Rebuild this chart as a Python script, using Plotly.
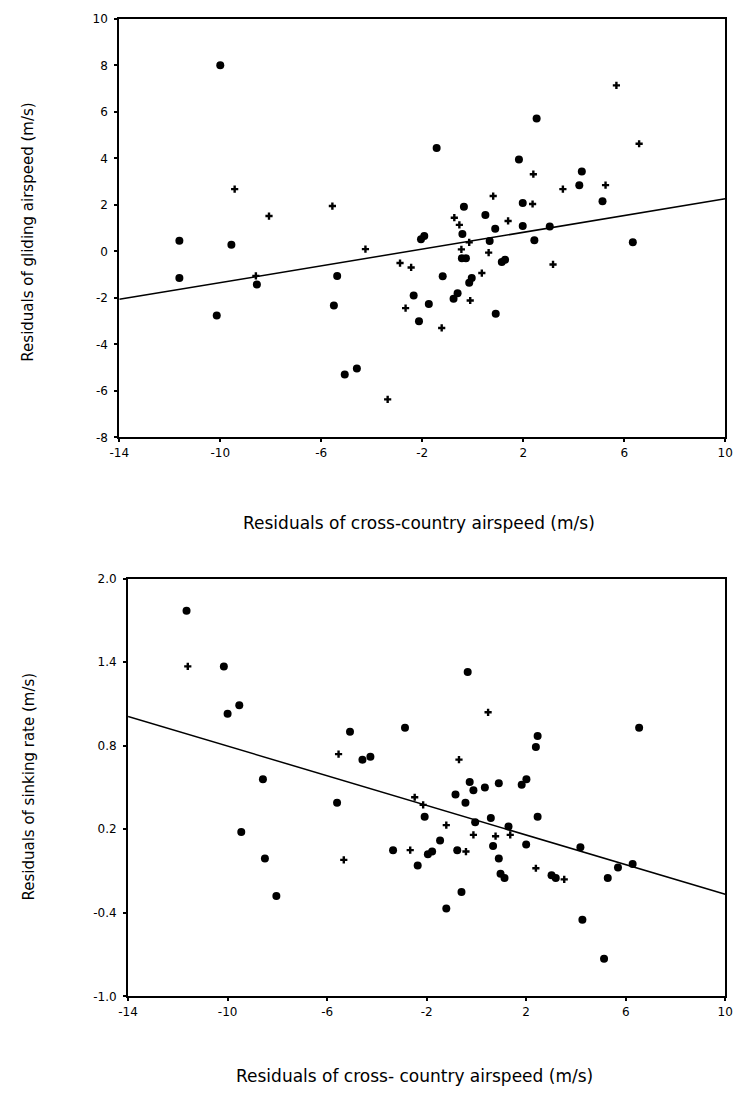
import plotly.graph_objects as go

# ---------------- data: top panel (gliding airspeed) ----------------
top_big_x = [-10.0, -1.43, 2.53, 1.83, 4.32, 4.22, 5.14, -0.35, 1.98, 0.50, 0.89, 1.98, 3.05,
             -0.41, -1.92, -2.05, 0.67, 2.44, -0.43, -0.27, -5.37, -1.19, 1.15, 1.28, -0.04,
             -0.14, -5.50, -2.34, -0.60, -0.76, -1.74, 0.91, -2.13, 6.34, -11.62, -9.56,
             -11.62, -8.55, -10.14, -5.07, -4.59]
top_big_y = [8.0, 4.45, 5.72, 3.95, 3.44, 2.85, 2.16, 1.92, 2.08, 1.57, 0.98, 1.09, 1.07,
             0.75, 0.66, 0.52, 0.45, 0.48, -0.29, -0.29, -1.06, -1.07, -0.46, -0.36, -1.14,
             -1.35, -2.33, -1.90, -1.80, -2.04, -2.26, -2.68, -3.00, 0.39, 0.46, 0.29,
             -1.14, -1.42, -2.75, -5.29, -5.03]
top_small_x = [-9.43, -8.07, -5.56, 5.69, 6.59, 2.40, 3.57, 5.26, 0.81, 2.37, -0.73, -0.53,
               1.40, -0.14, -4.25, -0.45, 0.63, -2.88, -2.44, 3.18, 0.36, -0.10, -2.66,
               -1.23, -8.59, -3.37]
top_small_y = [2.68, 1.52, 1.95, 7.14, 4.63, 3.32, 2.68, 2.85, 2.38, 2.04, 1.45, 1.14,
               1.31, 0.39, 0.10, 0.09, -0.05, -0.50, -0.69, -0.56, -0.93, -2.11, -2.44,
               -3.29, -1.05, -6.36]
top_fit_x = [-14, 10]
top_fit_y = [-2.06, 2.26]

# ---------------- data: bottom panel (sinking rate) ----------------
bot_big_x = [-11.65, -10.15, -9.53, -10.0, -5.08, -2.87, -4.58, -4.26, -8.58, -5.60, -9.45,
             -8.50, -8.04, -3.35, -2.36, -0.35, 6.54, 2.46, 2.39, -0.27, -0.12, 0.34, 0.90,
             1.82, 2.01, -0.84, -0.44, -2.08, 0.58, -0.05, 1.29, 2.46, -1.46, 2.00, -1.95,
             -1.78, -0.77, 0.67, 0.90, 0.97, 1.13, 3.02, 3.19, 4.18, 5.28, 5.69, 6.28,
             -0.60, -1.21, 4.26, 5.13]
bot_big_y = [1.77, 1.37, 1.09, 1.03, 0.90, 0.93, 0.70, 0.72, 0.56, 0.39, 0.18,
             -0.01, -0.28, 0.05, -0.06, 1.33, 0.93, 0.87, 0.79, 0.54, 0.48, 0.50, 0.53,
             0.52, 0.56, 0.45, 0.39, 0.29, 0.28, 0.25, 0.22, 0.29, 0.12, 0.09, 0.02,
             0.04, 0.05, 0.08, -0.01, -0.12, -0.15, -0.13, -0.15, 0.07, -0.15, -0.075, -0.05,
             -0.25, -0.37, -0.45, -0.73]
bot_small_x = [-11.60, -5.54, -5.33, -2.66, 0.47, -0.70, -2.48, -2.14, -1.21, 1.36, -0.12,
               0.77, -0.42, 2.39, 3.53]
bot_small_y = [1.37, 0.74, -0.02, 0.05, 1.04, 0.70, 0.43, 0.375, 0.23, 0.16, 0.16,
               0.15, 0.04, -0.08, -0.16]
bot_fit_x = [-14, 10]
bot_fit_y = [1.01, -0.267]

# ---------------- tick labels ----------------
x_tickvals = [-14, -10, -6, -2, 2, 6, 10]
x_ticktext = ["-14", "-10", "-6", "-2", "2", "6", "10"]
top_y_tickvals = [-8, -6, -4, -2, 0, 2, 4, 6, 8, 10]
top_y_ticktext = ["-8", "-6", "-4", "-2", "0", "2", "4", "6", "8", "10"]
bot_y_tickvals = [-1.0, -0.4, 0.2, 0.8, 1.4, 2.0]
bot_y_ticktext = ["-1.0", "-0.4", "0.2", "0.8", "1.4", "2.0"]

top_xtitle = "Residuals of cross-country airspeed (m/s)"
top_ytitle = "Residuals of gliding airspeed (m/s)"
bot_xtitle = "Residuals of cross- country airspeed (m/s)"
bot_ytitle = "Residuals of sinking rate (m/s)"

W, H = 742, 1106
FONT = "DejaVu Sans"

fig = go.Figure()
big_marker = dict(symbol="circle", size=8, color="black")
small_marker = dict(symbol="cross", size=6, color="black", line=dict(width=0))

fig.add_trace(go.Scatter(x=top_fit_x, y=top_fit_y, mode="lines",
                         line=dict(color="black", width=1.5), xaxis="x", yaxis="y"))
fig.add_trace(go.Scatter(x=top_big_x, y=top_big_y, mode="markers", marker=big_marker,
                         xaxis="x", yaxis="y"))
fig.add_trace(go.Scatter(x=top_small_x, y=top_small_y, mode="markers", marker=small_marker,
                         xaxis="x", yaxis="y"))

fig.add_trace(go.Scatter(x=bot_fit_x, y=bot_fit_y, mode="lines",
                         line=dict(color="black", width=1.5), xaxis="x2", yaxis="y2"))
fig.add_trace(go.Scatter(x=bot_big_x, y=bot_big_y, mode="markers", marker=big_marker,
                         xaxis="x2", yaxis="y2"))
fig.add_trace(go.Scatter(x=bot_small_x, y=bot_small_y, mode="markers", marker=small_marker,
                         xaxis="x2", yaxis="y2"))

axis_common = dict(showgrid=False, zeroline=False, showline=True, linecolor="black",
                   linewidth=2, mirror=True, ticks="outside", ticklen=3, tickwidth=1.5,
                   tickcolor="black", tickfont=dict(family=FONT, size=12, color="black"))

def px_x(p):
    return p / W

def px_y(p):
    return 1 - p / H

fig.update_layout(
    width=W, height=H, showlegend=False,
    paper_bgcolor="white", plot_bgcolor="white",
    margin=dict(l=0, r=0, t=0, b=0),
    xaxis=dict(domain=[px_x(112), px_x(733)], range=[-14, 10], anchor="y",
               tickvals=x_tickvals, ticktext=x_ticktext, **axis_common),
    yaxis=dict(domain=[px_y(436), px_y(12)], range=[-8, 10], anchor="x",
               tickvals=top_y_tickvals, ticktext=top_y_ticktext, ticklabelstandoff=4,
               **axis_common),
    xaxis2=dict(domain=[px_x(121), px_x(733)], range=[-14, 10], anchor="y2",
                tickvals=x_tickvals, ticktext=x_ticktext, **axis_common),
    yaxis2=dict(domain=[px_y(1002), px_y(579)], range=[-1, 2], anchor="x2",
                tickvals=bot_y_tickvals, ticktext=bot_y_ticktext, ticklabelstandoff=4,
                **axis_common),
)

xtitle_font = dict(family=FONT, size=17, color="black")
ytitle_font = dict(family=FONT, size=15, color="black")
fig.add_annotation(text=top_xtitle, x=px_x(419), y=px_y(523), xref="paper", yref="paper",
                   showarrow=False, font=xtitle_font, xanchor="center", yanchor="middle")
fig.add_annotation(text=top_ytitle, x=px_x(19), y=px_y(228), xref="paper", yref="paper",
                   showarrow=False, font=ytitle_font, textangle=-90,
                   xanchor="center", yanchor="middle")
fig.add_annotation(text=bot_xtitle, x=px_x(415), y=px_y(1083), xref="paper", yref="paper",
                   showarrow=False, font=xtitle_font, xanchor="center", yanchor="middle")
fig.add_annotation(text=bot_ytitle, x=px_x(19), y=px_y(790), xref="paper", yref="paper",
                   showarrow=False, font=ytitle_font, textangle=-90,
                   xanchor="center", yanchor="middle")

fig.write_html("out.html")
